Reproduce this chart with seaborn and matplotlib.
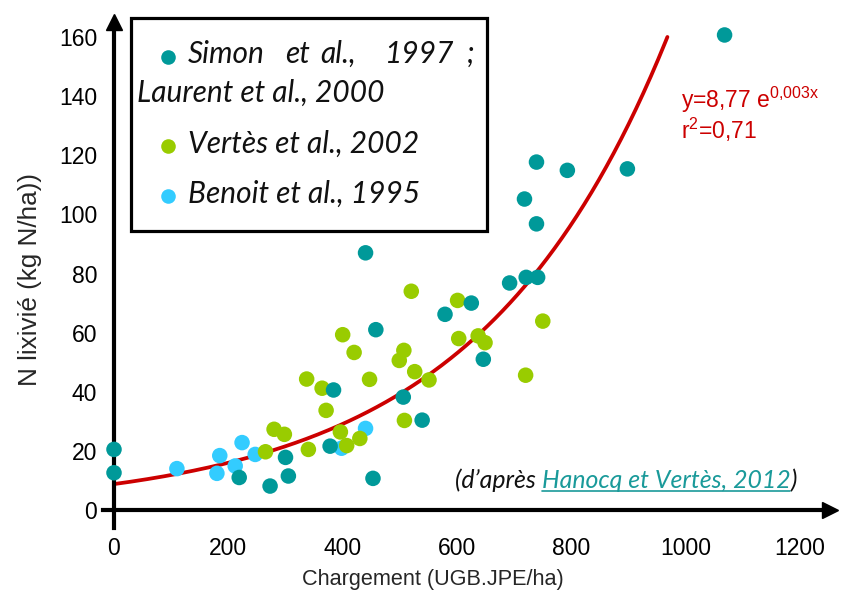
import numpy as np
import pandas as pd
import matplotlib
matplotlib.use("Agg")
import matplotlib.pyplot as plt
import seaborn as sns
from matplotlib import font_manager as fm
from matplotlib.lines import Line2D
from matplotlib.patches import Rectangle

# ---- data -------------------------------------------------------------
simon_x = [0, 0, 440, 458, 384, 579, 625, 646, 506, 539, 378, 300, 305, 219,
           273, 453, 692, 721, 741, 739, 793, 898, 718, 739, 1068]
simon_y = [20.5, 12.6, 87.0, 61.0, 40.6, 66.2, 70.0, 51.0, 38.2, 30.4, 21.6,
           17.8, 11.5, 11.0, 8.1, 10.7, 76.8, 78.7, 78.7, 117.7, 114.9, 115.4,
           105.2, 96.8, 160.7]

vertes_x = [265, 280, 298, 340, 337, 364, 371, 400, 420, 447, 396, 407, 430,
            520, 601, 499, 507, 526, 551, 508, 603, 637, 649, 750, 720]
vertes_y = [19.7, 27.3, 25.6, 20.5, 44.3, 41.2, 33.7, 59.3, 53.3, 44.2, 26.4,
            21.8, 24.2, 74.0, 70.9, 50.6, 54.0, 46.8, 44.0, 30.3, 58.0, 58.9,
            56.6, 63.9, 45.6]

benoit_x = [110, 185, 180, 212, 224, 247, 440, 398]
benoit_y = [14.0, 18.4, 12.4, 14.9, 22.8, 18.8, 27.6, 20.9]

sources = ["Benoit et al., 1995", "Vertès et al., 2002",
           "Simon et al., 1997 ; Laurent et al., 2000"]
colors = ["#33CCFF", "#99CC00", "#009999"]

fit_a, fit_b, fit_r2 = 8.77, 0.003, 0.71
fit_xmax = 968

x_ticks = [0, 200, 400, 600, 800, 1000, 1200]
y_ticks = [0, 20, 40, 60, 80, 100, 120, 140, 160]

# ---- style ------------------------------------------------------------
sns.set_theme(style="white")
HUMAN = ["Lato", "Open Sans", "DejaVu Sans"]
plt.rcParams["font.family"] = ["Liberation Sans", "DejaVu Sans"]

# a narrow sans for axis text, when one is installed
narrow_file = None
for wanted in ("Liberation Sans Narrow", "Arial Narrow"):
    for f in fm.fontManager.ttflist:
        if f.name == wanted and f.style == "normal" and f.weight in (400, "normal", "regular"):
            narrow_file = f.fname
            break
    if narrow_file:
        break
if narrow_file:
    AX_FONT = fm.FontProperties(fname=narrow_file)
    AX_SIZE = 18
else:
    AX_FONT = fm.FontProperties(family=["Liberation Sans", "DejaVu Sans"])
    AX_SIZE = 16.5


def axfont(size=None):
    p = AX_FONT.copy()
    p.set_size(size or AX_SIZE)
    return p


W, H = 841, 597
fig = plt.figure(figsize=(W / 100, H / 100), dpi=100)
renderer = fig.canvas.get_renderer()

# pixel geometry of the axes (data origin and scale)
X0, XS, Y0, YS = 114, 0.5717, 510, 2.956
xmin, xmax, ymin, ymax = -25, 1265, -12, 170
ax_l = (X0 + XS * xmin) / W
ax_r = (X0 + XS * xmax) / W
ax_top = Y0 - YS * ymax
ax_bot = Y0 - YS * ymin
ax = fig.add_axes([ax_l, 1 - ax_bot / H, ax_r - ax_l, (ax_bot - ax_top) / H])
ax.set_xlim(xmin, xmax)
ax.set_ylim(ymin, ymax)


def fpos(px, py):
    return px / W, 1 - py / H


def size_for_width(text, width_px, **kw):
    """Font size at which `text` spans `width_px` pixels."""
    t = fig.text(0, 0, text, fontsize=10, **kw)
    w = t.get_window_extent(renderer).width
    t.remove()
    return 10 * width_px / w


# ---- data layers --------------------------------------------------------
df = pd.concat([
    pd.DataFrame({"charge": benoit_x, "n": benoit_y, "source": sources[0]}),
    pd.DataFrame({"charge": vertes_x, "n": vertes_y, "source": sources[1]}),
    pd.DataFrame({"charge": simon_x, "n": simon_y, "source": sources[2]}),
], ignore_index=True)

xc = np.linspace(0, fit_xmax, 300)
sns.lineplot(x=xc, y=fit_a * np.exp(fit_b * xc), color="#CC0000", lw=2.7,
             ax=ax, zorder=2)
sns.scatterplot(data=df, x="charge", y="n", hue="source", hue_order=sources,
                palette=colors, s=125, linewidth=0, legend=False, ax=ax,
                clip_on=False, zorder=3)

# ---- axes with arrows ---------------------------------------------------
for side in ("top", "right"):
    ax.spines[side].set_visible(False)
ax.spines["left"].set_position(("data", 0))
ax.spines["bottom"].set_position(("data", 0))
ax.spines["left"].set_bounds(-6, 165)
ax.spines["bottom"].set_bounds(-20, 1252)
for side in ("left", "bottom"):
    ax.spines[side].set_linewidth(3)
    ax.spines[side].set_color("black")
ax.plot([1252], [0], marker=">", ms=12, color="black", clip_on=False, zorder=4)
ax.plot([0], [165], marker="^", ms=12, color="black", clip_on=False, zorder=4)

ax.set_xticks(x_ticks)
ax.set_yticks(y_ticks)
ax.tick_params(axis="both", direction="out", length=10.5, width=1.5,
               color="black", labelcolor="black")
ax.tick_params(axis="x", pad=9)
ax.tick_params(axis="y", pad=1.5)
for lab in ax.get_xticklabels() + ax.get_yticklabels():
    lab.set_fontproperties(axfont())
ax.grid(False)

xlab = "Chargement (UGB.JPE/ha)"
ylab = "N lixivié (kg N/ha))"
ax.set_xlabel(xlab, fontproperties=axfont(
    min(18, size_for_width(xlab, 263, fontproperties=axfont(10))))
)
ax.xaxis.set_label_coords((433 - ax_l * W) / ((ax_r - ax_l) * W),
                          (ax_bot - 580) / (ax_bot - ax_top))
ax.xaxis.label.set(va="center", ha="center")
ax.set_ylabel(ylab, fontproperties=axfont(
    min(19, size_for_width(ylab, 214, fontproperties=axfont(10))))
)
ax.yaxis.set_label_coords((30 - ax_l * W) / ((ax_r - ax_l) * W),
                          (ax_bot - 280) / (ax_bot - ax_top))
ax.yaxis.label.set(va="center", ha="center")

# ---- fitted equation ----------------------------------------------------
a_txt = f"{fit_a:.2f}".replace(".", ",")
b_txt = f"{fit_b:.3f}".replace(".", "{,}")
r_txt = f"{fit_r2:.2f}".replace(".", ",")
red = "#CC0000"
fig.text(*fpos(681, 108), f"y={a_txt} e$^{{\\mathregular{{{b_txt}x}}}}$",
         color=red, fontproperties=axfont(), va="baseline", ha="left")
fig.text(*fpos(681, 139), f"r$^{{\\mathregular{{2}}}}$={r_txt}",
         color=red, fontproperties=axfont(), va="baseline", ha="left")

# ---- legend box ---------------------------------------------------------
fig.add_artist(Rectangle(fpos(131, 231), (487 - 131) / W, (231 - 18) / H,
                         transform=fig.transFigure, fill=True, facecolor="white",
                         edgecolor="black", lw=2.3, zorder=5))
leg_size = size_for_width("Vertès et al., 2002", 230, family=HUMAN,
                          style="italic")
leg_font = dict(family=HUMAN, style="italic", fontsize=leg_size,
                color="#111111", va="baseline", ha="left", zorder=6)
for py, col in ((57, colors[2]), (146, colors[1]), (196, colors[0])):
    fig.add_artist(Line2D([167.5 / W], [1 - py / H], marker="o", ms=10.5,
                          color=col, mew=0, transform=fig.transFigure, zorder=6))
for word, px in (("Simon", 188), ("et", 285), ("al.,", 320), ("1997", 385),
                 (";", 467)):
    fig.text(*fpos(px, 63), word, **leg_font)
fig.text(*fpos(137, 102), "Laurent et al., 2000", **leg_font)
fig.text(*fpos(188, 153), "Vertès et al., 2002", **leg_font)
fig.text(*fpos(188, 203), "Benoit et al., 1995", **leg_font)

# ---- source note --------------------------------------------------------
note_size = size_for_width("Hanocq et Vertès, 2012", 248, family=HUMAN,
                           style="italic")
note_font = dict(family=HUMAN, style="italic", fontsize=note_size,
                 va="baseline", ha="left")
t1 = fig.text(*fpos(455, 488), "(d’après ", color="#111111", **note_font)
bb1 = t1.get_window_extent(renderer)
teal = "#1A9A9A"
t2 = fig.text(bb1.x1 / W, 1 - 488 / H, "Hanocq et Vertès, 2012", color=teal,
              **note_font)
bb2 = t2.get_window_extent(renderer)
fig.add_artist(Line2D([bb2.x0 / W, bb2.x1 / W], [1 - 491 / H, 1 - 491 / H],
                      color=teal, lw=1.2, transform=fig.transFigure))
fig.text(bb2.x1 / W, 1 - 488 / H, ")", color="#111111", **note_font)

fig.savefig("out.png", dpi=100)
